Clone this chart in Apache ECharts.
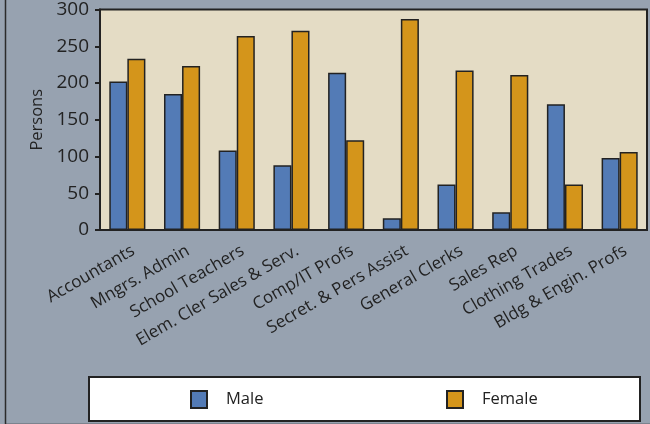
<!DOCTYPE html>
<html>
<head>
<meta charset="utf-8">
<script src="https://cdn.jsdelivr.net/npm/echarts@6/dist/echarts.min.js"></script>
<style>
html,body{margin:0;padding:0;background:#97a2b0;}
#chart{width:650px;height:424px;}
</style>
</head>
<body>
<div id="chart"></div>
<script>
const categories = ["Accountants","Mngrs. Admin","School Teachers","Elem. Cler Sales & Serv.","Comp/IT Profs","Secret. & Pers Assist","General Clerks","Sales Rep","Clothing Trades","Bldg & Engin. Profs"];
const maleValues = [202,185,108,88,214,16,62,24,171,98];
const femaleValues = [233,223,264,271,122,287,217,211,62,106];
const yTicks = {min:0, max:300, interval:50};

const FONT = '"Open Sans", "Noto Sans", sans-serif';
const chart = echarts.init(document.getElementById('chart'), null, {renderer:'canvas'});
chart.setOption({
  backgroundColor:'#97a2b0',
  animation:false,
  textStyle:{fontFamily:FONT},
  graphic:[
    {type:'rect', left:3, top:-5, shape:{width:700, height:427}, style:{fill:'none', stroke:'#2b2b2b', lineWidth:1.5}, silent:true, z:-1},
    {type:'rect', left:88, top:376, shape:{width:551, height:44}, style:{fill:'#ffffff', stroke:'#222', lineWidth:2}, z:0}
  ],
  grid:{left:100, right:3, top:6, bottom:194, show:true, backgroundColor:'#e4dcc5', borderColor:'#222', borderWidth:2},
  legend:[
    {data:['Male'], left:190, top:390, padding:0, itemWidth:16, itemHeight:17, itemGap:0, icon:'rect',
     textStyle:{fontSize:16.5, color:'#222', fontFamily:FONT, padding:[2,0,0,14]}, z:5},
    {data:['Female'], left:446, top:390, padding:0, itemWidth:16, itemHeight:17, itemGap:0, icon:'rect',
     textStyle:{fontSize:16.5, color:'#222', fontFamily:FONT, padding:[2,0,0,14]}, z:5}
  ],
  xAxis:{
    type:'category', data:categories,
    axisLine:{lineStyle:{color:'#222', width:2}},
    axisTick:{show:false},
    axisLabel:{rotate:30, interval:0, fontSize:17, color:'#222', margin:23, padding:[0,-7,0,0], fontFamily:FONT}
  },
  yAxis:{
    type:'value', min:yTicks.min, max:yTicks.max, interval:yTicks.interval,
    name:'Persons', nameLocation:'middle', nameGap:53, nameRotate:90,
    nameTextStyle:{fontSize:16.5, color:'#222', fontFamily:FONT},
    axisLine:{show:true, lineStyle:{color:'#222', width:2}},
    axisTick:{show:true, inside:false, length:5, lineStyle:{color:'#222', width:2}},
    splitLine:{show:false},
    axisLabel:{fontSize:19, color:'#222', margin:11, fontFamily:FONT}
  },
  series:[
    {name:'Male', type:'bar', data:maleValues, barGap:'0%', barCategoryGap:'34%',
     itemStyle:{color:'#537bb6', borderColor:'#222', borderWidth:1.5}},
    {name:'Female', type:'bar', data:femaleValues,
     itemStyle:{color:'#d4951b', borderColor:'#222', borderWidth:1.5}}
  ]
});
</script>
</body>
</html>
